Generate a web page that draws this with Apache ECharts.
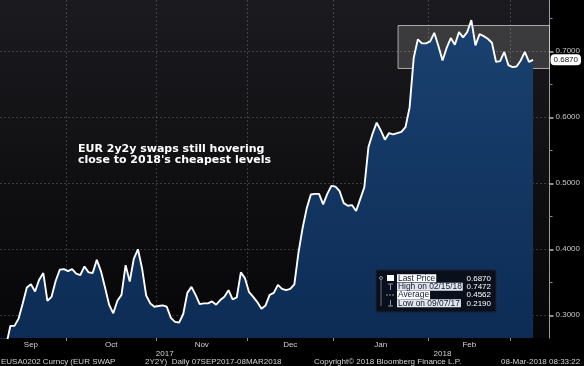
<!DOCTYPE html>
<html><head><meta charset="utf-8">
<script src="https://cdn.jsdelivr.net/npm/echarts@6/dist/echarts.min.js"></script>
<style>html,body{margin:0;padding:0;background:#000;}#c{width:584px;height:366px;}</style>
</head><body><div id="c"></div><script>
// EUSA0202 daily values, 07SEP2017 - 08MAR2018 (one per weekday)
const values = [
0.219,0.235,0.255,0.284,0.284,0.295,0.318,0.342,0.347,0.336,
0.354,0.364,0.322,0.328,0.352,0.369,0.370,0.367,0.370,0.363,
0.361,0.374,0.365,0.364,0.384,0.367,0.342,0.316,0.303,0.322,
0.331,0.376,0.351,0.386,0.400,0.371,0.330,0.318,0.313,0.314,
0.315,0.313,0.296,0.290,0.289,0.302,0.334,0.343,0.331,0.317,
0.318,0.318,0.321,0.316,0.323,0.328,0.338,0.324,0.327,0.365,
0.356,0.335,0.328,0.320,0.310,0.315,0.331,0.334,0.346,0.340,
0.338,0.340,0.347,0.395,0.432,0.462,0.483,0.484,0.484,0.468,
0.484,0.496,0.495,0.488,0.470,0.466,0.467,0.458,0.476,0.494,
0.555,0.575,0.592,0.580,0.566,0.576,0.574,0.576,0.578,0.585,
0.615,0.690,0.718,0.712,0.712,0.715,0.728,0.708,0.686,0.705,
0.720,0.710,0.729,0.721,0.729,0.7472,0.709,0.726,0.723,0.719,
0.713,0.684,0.685,0.699,0.679,0.676,0.677,0.686,0.699,0.684,
0.687];
const monthNames = ['Sep','Oct','Nov','Dec','Jan','Feb','Mar'];
const monthStarts = [0,17,39,61,82,105,125];
const yearNames = ['2017','2018'];
const yearStarts = [0,82];
const axisEnd = 134;          // last slot of the x axis (a few empty days after 08MAR)
const axisStart = 0.48;
const yMin = 0.2656, yMax = 0.7777;
const yTickLabels = [0.3,0.4,0.5,0.6,0.7];
const yMinorTicks = [0.35,0.45,0.55,0.65,0.75];
const lastPrice = 0.6870;
const boxStart = 97.2, boxTop = 0.739, boxBottom = 0.674;
const legendLabels = ['Last Price','High on 02/15/18','Average','Low on 09/07/17'];
const legendValues = ['0.6870','0.7472','0.4562','0.2190'];
const annotation = ["EUR 2y2y swaps still hovering","close to 2018's cheapest levels"];
const footer = ['EUSA0202 Curncy (EUR SWAP','2Y2Y)  Daily 07SEP2017-08MAR2018','Copyright\u00A9 2018 Bloomberg Finance L.P.','08-Mar-2018 08:33:22'];

const monthTicks = monthStarts.slice(1).map(s => s - 0.5);
const monthCenters = monthNames.slice(0,6).map((m,i) => (monthStarts[i] + monthStarts[i+1] - 1) / 2);
const yearCenters = yearStarts.map((s,i) => (s + (i+1 < yearStarts.length ? yearStarts[i+1]-1 : axisEnd)) / 2);

const chart = echarts.init(document.getElementById('c'), null, {renderer:'canvas'});
const FONT = 'Liberation Sans';
const gridLine = {show:true, lineStyle:{color:'rgba(170,170,180,0.28)', type:[2,2], width:1}};

const G = [];
const Z = 100;
G.push({type:'rect', z:Z, shape:{x:376,y:270,width:120,height:42}, style:{fill:'#0a0f1c', stroke:'#1a2234', lineWidth:1}});
G.push({type:'rect', z:Z, shape:{x:387,y:275,width:7,height:6}, style:{fill:'#ffffff'}});
G.push({type:'circle', z:Z, shape:{cx:381,cy:278,r:1.5}, style:{fill:'none', stroke:'#8a93a3'}});
G.push({type:'line', z:Z, shape:{x1:381,y1:280,x2:381,y2:306}, style:{stroke:'#6a7383', lineWidth:1}});
G.push({type:'line', z:Z, shape:{x1:388,y1:284,x2:393,y2:284}, style:{stroke:'#8a93a3', lineWidth:1}});
G.push({type:'line', z:Z, shape:{x1:390.5,y1:284,x2:390.5,y2:290}, style:{stroke:'#8a93a3', lineWidth:1}});
G.push({type:'line', z:Z, shape:{x1:386,y1:295,x2:395,y2:295}, style:{stroke:'#8a93a3', lineWidth:1, lineDash:[2,1]}});
G.push({type:'line', z:Z, shape:{x1:390.5,y1:300,x2:390.5,y2:306}, style:{stroke:'#8a93a3', lineWidth:1}});
G.push({type:'line', z:Z, shape:{x1:388,y1:306,x2:393,y2:306}, style:{stroke:'#8a93a3', lineWidth:1}});
legendLabels.forEach((t,i) => {
  const cy = 278.3 + i*8.35;
  G.push({type:'text', z:Z+1, x:397, y:cy, style:{text:t, fill:'#0c1a33', font:'8.4px "'+FONT+'"', verticalAlign:'middle', align:'left', backgroundColor: i % 2 === 0 ? '#ffffff' : '#e3e5ec', padding:[0,1,0,1]}});
  G.push({type:'text', z:Z+1, x:491, y:cy, style:{text:legendValues[i], fill:'#ffffff', font:'8px "'+FONT+'"', verticalAlign:'middle', align:'right'}});
});
annotation.forEach((t,i) => {
  G.push({type:'text', z:Z, x:78, y:149 + i*11, style:{text:t, fill:'#ffffff', font:'bold 11px "DejaVu Sans"', verticalAlign:'middle', align:'left'}});
});
const footerX = [1,145,314,501];
footer.forEach((t,i) => {
  G.push({type:'text', z:Z, x:footerX[i], y:361.5, style:{text:t, fill:'#d2d2d2', font:'8px "'+FONT+'"', verticalAlign:'middle', align:'left'}});
});

chart.setOption({
  backgroundColor:'#000',
  animation:false,
  grid:{left:0, right:32, top:0, bottom:28, show:true, borderWidth:0,
    backgroundColor:{type:'linear', x:0, y:0, x2:0, y2:1, colorStops:[{offset:0,color:'#1b1b1f'},{offset:1,color:'#060608'}]}},
  xAxis:[{
    type:'value', min:axisStart, max:axisEnd, position:'bottom',
    axisLine:{show:false},
    axisTick:{show:true, customValues:monthTicks, length:3, lineStyle:{color:'#8a8a8a'}},
    axisLabel:{show:true, customValues:monthCenters, margin:3, color:'#d2d2d2', fontSize:8, fontFamily:FONT,
      formatter: v => monthNames[monthCenters.indexOf(v)] || ''},
    splitLine:gridLine
  },{
    type:'value', min:axisStart, max:axisEnd, position:'bottom', offset:9,
    axisLine:{show:false}, axisTick:{show:false}, splitLine:{show:false},
    axisLabel:{show:true, customValues:yearCenters, margin:3, color:'#d2d2d2', fontSize:8, fontFamily:FONT,
      formatter: v => yearNames[yearCenters.indexOf(v)] || ''}
  }],
  yAxis:[{
    type:'value', position:'right', min:yMin, max:yMax,
    axisLine:{show:true, lineStyle:{color:'#9a9a9a', width:1}},
    axisTick:{show:true, customValues:yTickLabels, length:4, lineStyle:{color:'#bdbdbd', width:1.5}},
    axisLabel:{show:true, customValues:yTickLabels, margin:6, color:'#c8c8c8', fontSize:8, fontFamily:FONT,
      formatter: v => v.toFixed(4)},
    splitLine:gridLine
  },{
    type:'value', position:'right', min:yMin, max:yMax,
    axisLine:{show:false}, splitLine:{show:false}, axisLabel:{show:false},
    axisTick:{show:true, customValues:yMinorTicks, length:3, lineStyle:{color:'#8a8a8a'}}
  },{
    type:'value', position:'right', min:yMin, max:yMax, z:10,
    axisLine:{show:false}, splitLine:{show:false}, axisTick:{show:false},
    axisLabel:{show:true, customValues:[lastPrice], margin:1, color:'#111', fontSize:8, fontFamily:FONT,
      backgroundColor:'#ffffff', borderRadius:4, padding:[2,3,1,3],
      formatter: v => v.toFixed(4)}
  }],
  graphic: G,
  series:[{
    type:'line', xAxisIndex:0, yAxisIndex:0, z:2,
    data: values.map((v,i) => [i,v]),
    showSymbol:false, symbol:'none', clip:true,
    lineStyle:{color:'#ffffff', width:1.9},
    areaStyle:{color:{type:'linear', x:0, y:0, x2:0, y2:1, colorStops:[{offset:0,color:'#1a4170'},{offset:1,color:'#0b2a52'}]}, opacity:1}
  },{
    type:'line', xAxisIndex:0, yAxisIndex:0, z:5, data:[], silent:true,
    markArea:{silent:true,
      itemStyle:{color:'rgba(255,255,255,0.15)', borderColor:'rgba(215,215,215,0.75)', borderWidth:1},
      data:[[{coord:[boxStart, boxTop]},{coord:[axisEnd, boxBottom]}]]}
  }]
});
</script></body></html>
